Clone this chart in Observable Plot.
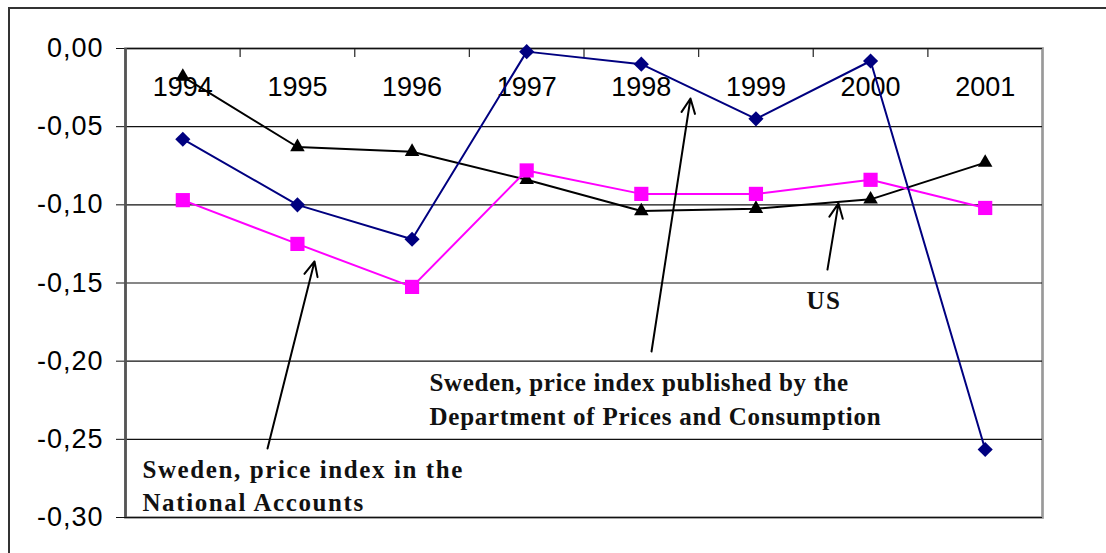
<!DOCTYPE html>
<html>
<head>
<meta charset="utf-8">
<script src="https://cdn.jsdelivr.net/npm/d3@7"></script>
<script src="https://cdn.jsdelivr.net/npm/@observablehq/plot@0.6"></script>
<style>
  html, body { margin: 0; padding: 0; background: #fff; }
  #wrap { position: relative; width: 1106px; height: 553px; overflow: hidden; }
  #outer { position: absolute; left: 8px; top: 7px; width: 1200px; height: 700px;
           border-left: 2px solid #333; border-top: 2px solid #333; pointer-events: none; }
  #chart { position: absolute; left: 0; top: 0; }
</style>
</head>
<body>
<div id="wrap"><div id="chart"></div><div id="outer"></div></div>
<script>
const years = [1994, 1995, 1996, 1997, 1998, 1999, 2000, 2001];
const deptPrices = [-0.058, -0.100, -0.122, -0.002, -0.010, -0.045, -0.008, -0.2565];
const nationalAccounts = [-0.097, -0.125, -0.1525, -0.078, -0.093, -0.093, -0.084, -0.102];
const us = [-0.018, -0.063, -0.066, -0.084, -0.104, -0.1025, -0.0965, -0.073];
const yTicks = [0, -0.05, -0.10, -0.15, -0.20, -0.25, -0.30];

// annotations (data coordinates)
const annoText = [
  "Sweden, price index in the",
  "National Accounts",
  "Sweden, price index published by the",
  "Department of Prices and Consumption",
  "US"
];
const annoSpacing = [1.6, 1.6, 0.65, 0.75, 1.5];
const annoX = [1993.648, 1993.648, 1996.152, 1996.152, 1999.441];
const annoY = [-0.2697, -0.2908, -0.2140, -0.2358, -0.1616];
const arrowX1 = [1994.739, 1998.089, 1999.624];
const arrowY1 = [-0.2559, -0.1938, -0.1414];
const arrowX2 = [1995.149, 1998.429, 1999.720];
const arrowY2 = [-0.1362, -0.0320, -0.0991];

const rows = (vals) => years.map((yr, i) => ({year: yr, value: vals[i]}));
const seriesDept = rows(deptPrices);
const seriesNA = rows(nationalAccounts);
const seriesUS = rows(us);
const boundaries = years.slice(0, -1).map(y => y + 0.5);
const annos = annoText.map((t, i) => ({t, x: annoX[i], y: annoY[i]}));
const arrows = arrowX1.map((x, i) => ({x1: x, y1: arrowY1[i], x2: arrowX2[i], y2: arrowY2[i]}));

const sans = "'Liberation Sans', Arial, sans-serif";
const serif = "'Liberation Serif', 'Times New Roman', serif";
const fmt = d => d.toFixed(2).replace(".", ",");

const chart = Plot.plot({
  width: 1106,
  height: 553,
  marginLeft: 125,
  marginTop: 48,
  marginRight: 64,
  marginBottom: 36,
  style: {fontFamily: sans, background: "transparent"},
  x: {type: "linear", domain: [years[0] - 0.5, years[years.length - 1] + 0.5]},
  y: {domain: [-0.30, 0]},
  marks: [
    Plot.frame({stroke: "#999", strokeWidth: 2.7}),
    Plot.ruleY(yTicks, {stroke: "#111", strokeWidth: 1.2}),
    Plot.axisX({anchor: "top", ticks: boundaries, tickSize: -8, tickFormat: () => "", stroke: "#333", strokeWidth: 1.3}),
    Plot.axisY({ticks: yTicks, tickFormat: fmt, tickSize: 9, tickPadding: 13, fontSize: 27, fill: "#000", stroke: "#111"}),
    Plot.ruleX([years[0] - 0.5], {stroke: "#555", strokeWidth: 2.7}),
    Plot.text(years, {x: d => d, y: 0, dy: 39, text: d => String(d), fontSize: 27, fill: "#000", fontFamily: sans}),
    Plot.line(seriesUS, {x: "year", y: "value", stroke: "#000", strokeWidth: 2}),
    Plot.line(seriesNA, {x: "year", y: "value", stroke: "#ff00ff", strokeWidth: 2}),
    Plot.line(seriesDept, {x: "year", y: "value", stroke: "#000080", strokeWidth: 2}),
    Plot.dot(seriesUS, {x: "year", y: "value", symbol: "triangle", r: 5.4, fill: "#000", stroke: "none"}),
    Plot.dot(seriesNA, {x: "year", y: "value", symbol: "square", r: 8, fill: "#ff00ff", stroke: "none"}),
    Plot.dot(seriesDept, {x: "year", y: "value", symbol: "diamond2", r: 6.8, fill: "#000080", stroke: "none"}),
    Plot.arrow(arrows, {x1: "x1", y1: "y1", x2: "x2", y2: "y2", stroke: "#000", strokeWidth: 2, headLength: 12, headAngle: 50}),
    Plot.text(annos, {x: "x", y: "y", text: "t", textAnchor: "start", fontSize: 25, fontWeight: "bold", fontFamily: serif, fill: "#111"})
  ]
});
// letter spacing tweaks to match the reference's text widths
const yLabels = new Set(yTicks.map(fmt));
d3.select(chart).selectAll("text").each(function () {
  const s = this.textContent;
  const k = annoText.indexOf(s);
  if (k >= 0) this.setAttribute("letter-spacing", annoSpacing[k]);
  else if (yLabels.has(s)) this.setAttribute("letter-spacing", 1);
});
document.getElementById("chart").appendChild(chart);
</script>
</body>
</html>
